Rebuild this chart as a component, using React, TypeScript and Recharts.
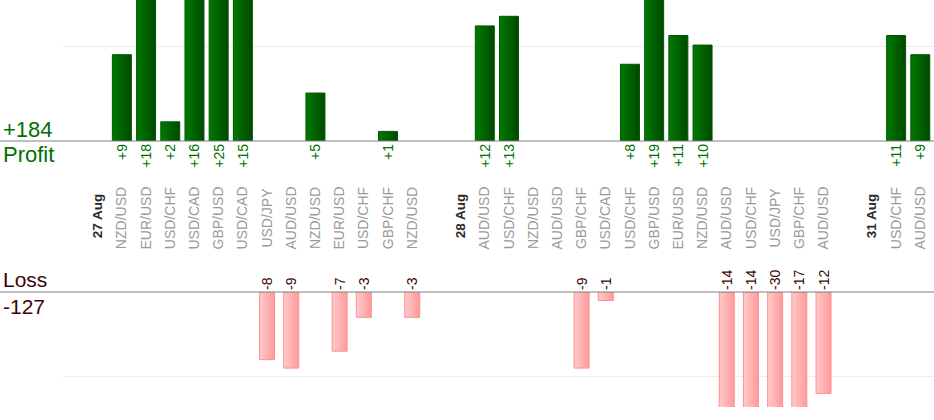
import React from "react";
import { Bar, BarChart, CartesianGrid, Label, LabelList, XAxis, YAxis } from "recharts";

// one slot per trade; each day opens with a blank spacer and its date
const SLOTS = [
  "", "27 Aug",
  "NZD/USD", "EUR/USD", "USD/CHF", "USD/CAD", "GBP/USD", "USD/CAD", "USD/JPY",
  "AUD/USD", "NZD/USD", "EUR/USD", "USD/CHF", "GBP/CHF", "NZD/USD",
  "", "28 Aug",
  "AUD/USD", "USD/CHF", "NZD/USD", "AUD/USD", "GBP/CHF", "USD/CAD", "USD/CHF",
  "GBP/USD", "EUR/USD", "NZD/USD", "AUD/USD", "USD/CHF", "USD/JPY", "GBP/CHF", "AUD/USD",
  "", "31 Aug",
  "USD/CHF", "AUD/USD",
];

const DAYS = ["27 Aug", "28 Aug", "31 Aug"];

const PROFIT = [
  null, null,
  9, 18, 2, 16, 25, 15, null, null, 5, null, null, 1, null,
  null, null,
  12, 13, null, null, null, null, 8, 19, 11, 10, null, null, null, null, null,
  null, null,
  11, 9,
];

const LOSS = [
  null, null,
  null, null, null, null, null, null, -8, -9, null, -7, -3, null, -3,
  null, null,
  null, null, null, null, -9, -1, null, null, null, null, -14, -14, -30, -17, -12,
  null, null,
  null, null,
];

const rows = SLOTS.map((name, i) => ({
  key: `slot-${i}`,
  name,
  profit: PROFIT[i],
  loss: LOSS[i],
}));

const totalProfit = PROFIT.reduce((s, v) => s + (v ?? 0), 0);
const totalLoss = LOSS.reduce((s, v) => s + (v ?? 0), 0);

const GREEN = "#007000";
const MAROON = "#3a0505";
const AXIS = "#808080";
const GRID = "#ececec";
const PAD = { left: 61, right: 2 };

function CategoryTick(props: any) {
  const { x, y, payload } = props;
  const name = SLOTS[payload.index];
  if (!name) return null;
  const isDay = DAYS.includes(name);
  const cy = y + (isDay ? 75 : 77);
  return (
    <text
      x={x}
      y={cy}
      transform={`rotate(-90, ${x}, ${cy})`}
      textAnchor="middle"
      dominantBaseline="central"
      fontSize={isDay ? 13.5 : 14}
      fontWeight={isDay ? "bold" : "normal"}
      fill={isDay ? "#2a2a2a" : "#9a9a9a"}
    >
      {name}
    </text>
  );
}

function ProfitValue(props: any) {
  const { x, y, width, height, value } = props;
  if (value == null) return null;
  const cx = x + width / 2;
  const base = Math.max(y, y + height) + 3;
  return (
    <text
      x={cx}
      y={base}
      transform={`rotate(-90, ${cx}, ${base})`}
      textAnchor="end"
      dominantBaseline="central"
      fontSize={14}
      fill={GREEN}
    >
      {`+${value}`}
    </text>
  );
}

function LossValue(props: any) {
  const { x, y, width, height, value } = props;
  if (value == null) return null;
  const cx = x + width / 2;
  const base = Math.min(y, y + height) - 2;
  return (
    <text
      x={cx}
      y={base}
      transform={`rotate(-90, ${cx}, ${base})`}
      textAnchor="start"
      dominantBaseline="central"
      fontSize={14}
      fill={MAROON}
    >
      {`${value}`}
    </text>
  );
}

function ProfitTitle(props: any) {
  const { viewBox } = props;
  const lineY = viewBox.y;
  return (
    <g>
      <text x={3} y={lineY - 4} fontSize={22} fill={GREEN}>{`+${totalProfit}`}</text>
      <text x={3} y={lineY + 21} fontSize={22} fill={GREEN}>Profit</text>
    </g>
  );
}

function LossTitle(props: any) {
  const { viewBox } = props;
  const lineY = viewBox.y + viewBox.height;
  return (
    <g>
      <text x={3} y={lineY - 5} fontSize={21} fill={MAROON}>Loss</text>
      <text x={3} y={lineY + 22} fontSize={21} fill={MAROON}>{`${totalLoss}`}</text>
    </g>
  );
}

export default function App() {
  return (
    <div
      style={{
        position: "absolute",
        left: 0,
        top: 0,
        width: 934,
        height: 420,
        background: "#fff",
        fontFamily: "'Liberation Sans', Arial, sans-serif",
      }}
    >
      <div style={{ position: "absolute", left: 0, top: 0 }}>
        <BarChart width={934} height={250} data={rows} margin={{ top: 0, right: 0, bottom: 0, left: 0 }} barSize={19}>
          <defs>
            <linearGradient id="profitFill" x1="0" y1="0" x2="1" y2="0">
              <stop offset="0%" stopColor="#007a00" />
              <stop offset="100%" stopColor="#004800" />
            </linearGradient>
          </defs>
          <CartesianGrid x={63} width={871} vertical={false} horizontalValues={[9.85]} stroke={GRID} />
          <XAxis
            dataKey="key"
            padding={PAD}
            height={109}
            interval={0}
            tickLine={false}
            tickSize={0}
            tickMargin={0}
            axisLine={{ stroke: AXIS }}
            tick={<CategoryTick />}
          >
            <Label content={<ProfitTitle />} />
          </XAxis>
          <YAxis hide domain={[0, 14.7]} ticks={[9.85]} allowDataOverflow />
          <Bar dataKey="profit" fill="url(#profitFill)" stroke="#005a00" strokeWidth={1} isAnimationActive={false}>
            <LabelList dataKey="profit" content={<ProfitValue />} />
          </Bar>
        </BarChart>
      </div>
      <div style={{ position: "absolute", left: 0, top: 250 }}>
        <BarChart width={934} height={170} data={rows} margin={{ top: 0, right: 0, bottom: 13, left: 0 }} barSize={15}>
          <defs>
            <linearGradient id="lossFill" x1="0" y1="0" x2="1" y2="0">
              <stop offset="0%" stopColor="#ffcaca" />
              <stop offset="100%" stopColor="#ff9a9a" />
            </linearGradient>
          </defs>
          <CartesianGrid x={63} width={871} vertical={false} horizontalValues={[-10]} stroke={GRID} />
          <XAxis
            dataKey="key"
            orientation="top"
            padding={PAD}
            height={42}
            interval={0}
            tick={false}
            tickLine={false}
            axisLine={{ stroke: AXIS }}
          >
            <Label content={<LossTitle />} />
          </XAxis>
          <YAxis hide domain={[-13.6, 0]} ticks={[-10]} allowDataOverflow />
          <Bar dataKey="loss" fill="url(#lossFill)" stroke="#ff9090" strokeWidth={1} isAnimationActive={false}>
            <LabelList dataKey="loss" content={<LossValue />} />
          </Bar>
        </BarChart>
      </div>
    </div>
  );
}
